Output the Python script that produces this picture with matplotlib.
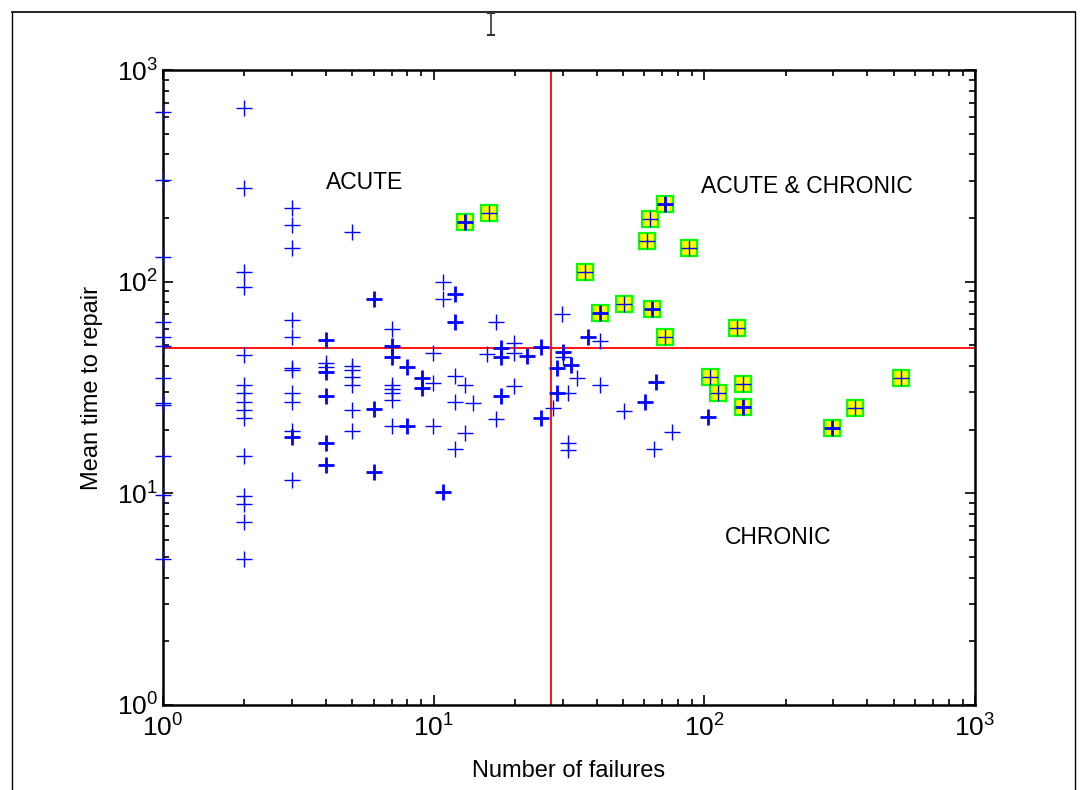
import numpy as np
import matplotlib
matplotlib.use("Agg")
import matplotlib.pyplot as plt
from matplotlib.lines import Line2D
from matplotlib.ticker import FixedLocator, FixedFormatter, LogLocator, NullFormatter

plt.rcParams['font.family'] = ['Liberation Sans', 'DejaVu Sans']
plt.rcParams['mathtext.default'] = 'regular'

# plain failure points: number of failures, mean time to repair, drawn twice (bold) or not
fail_x = [1]*12 + [2]*15 + [3]*12 + [4]*7 + [5]*7 + [6]*3 + [7]*8 + [7.95]*2 + [9.03]*2 \
    + [9.94]*3 + [10.85]*3 + [12.0]*5 + [13.05]*2 + [14.0] + [17.0]*2 + [15.7] + [17.8]*3 \
    + [19.8]*3 + [22.1] + [24.9]*2 + [27.7] + [28.5]*2 + [29.7] + [30.0]*2 + [31.4]*3 \
    + [32.3] + [33.8] + [37.2] + [41.2]*2 + [50.6] + [60.3] + [65.3] + [66.3] + [75.7] + [103.4]
repair_y = [631, 302, 131, 64.7, 55, 49.8, 34.9, 26.8, 26.1, 15.0, 9.8, 4.9,
            659, 278, 111, 94.6, 45, 32.5, 29.7, 27.1, 24.7, 22.6, 15.0, 9.7, 8.9, 7.3, 4.9,
            222, 186, 144, 65.9, 54.6, 38.9, 38.2, 29.7, 27.1, 19.8, 18.4, 11.6,
            53, 41.1, 39.4, 37.3, 28.8, 17.2, 13.6,
            171, 39.9, 38.2, 35.4, 32.5, 24.7, 19.7,
            82.5, 24.9, 12.6,
            59.9, 49.4, 43.9, 32.5, 31.0, 29.9, 27.6, 20.8,
            39.6, 20.8,
            34.9, 31.3,
            45.8, 33.1, 20.8,
            100, 82.5, 10.1,
            87.1, 64.7, 35.8, 26.9, 16.2,
            32.5, 19.3,
            26.6,
            64.7, 22.4,
            45.5,
            48.4, 44.2, 28.9,
            51.1, 45.8, 32.1,
            44.5,
            49.1, 22.6,
            25.2,
            38.9, 29.7,
            70.1,
            46.7, 44.2,
            29.7, 17.2, 16.0,
            40.4,
            34.9,
            54.6,
            52.6, 32.5,
            24.5,
            27.1,
            16.2,
            33.7,
            19.4,
            23.0]
bold = [0]*12 + [0]*10 + [0]*5 + [0]*10 + [1, 0] + [1, 0, 0, 1, 1, 1, 1] + [0]*7 + [1]*3 \
    + [0, 1, 1, 0, 0, 0, 0, 0] + [1, 1] + [1, 1] + [0]*3 + [0, 0, 1] + [1, 1, 0, 0, 0] + [0, 0] \
    + [0] + [0, 0] + [0] + [1]*3 + [0]*3 + [1] + [1, 1] + [0] + [1, 1] + [0] + [1, 0] + [0]*3 \
    + [1] + [0] + [1] + [0, 0] + [0] + [1] + [0] + [1] + [0] + [1]

# failures flagged as both acute and chronic
flag_x = [13.05, 16.0, 36.2, 41.2, 50.6, 64.2, 71.5, 61.4, 63.1, 71.6, 88, 132,
          105, 112, 139, 139, 360, 297, 535]
flag_y = [192, 212, 111, 70.8, 78.4, 74.0, 54.6, 156, 197, 232, 145, 60.2,
          35.6, 29.7, 32.8, 25.7, 25.2, 20.3, 34.9]
flag_bold = [1, 0, 0, 1, 0, 1, 0, 0, 0, 1, 0, 0, 0, 0, 0, 1, 0, 1, 0]

x_limit = 27.1
y_limit = 48.7

fail_x = np.array(fail_x)
repair_y = np.array(repair_y)
bold = np.array(bold, dtype=bool)
flag_bold = np.array(flag_bold, dtype=bool)
flag_x = np.array(flag_x)
flag_y = np.array(flag_y)

fig = plt.figure(figsize=(10.81, 7.90), dpi=100)
ax = fig.add_axes([163/1081, 85/790, 812/1081, 635/790])
ax.set_xscale('log')
ax.set_yscale('log')
ax.set_xlim(1, 1000)
ax.set_ylim(1, 1000)

ax.axvline(x_limit, color='#ff0000', lw=1.3, zorder=1)
ax.axhline(y_limit, color='#ff0000', lw=1.3, zorder=1)

ax.plot(flag_x, flag_y, 's', ms=11, mfc='#ffff00', mec='#00ff00', mew=1.6, ls='none', zorder=2, clip_on=False)

ax.plot(fail_x[~bold], repair_y[~bold], '+', color='#0000ff', ms=11.5, mew=1.0, ls='none', zorder=3, clip_on=False)
ax.plot(fail_x[bold], repair_y[bold], '+', color='#0000ff', ms=11.5, mew=2.0, ls='none', zorder=3, clip_on=False)
ax.plot(flag_x[~flag_bold], flag_y[~flag_bold], '+', color='#0000ff', ms=11.5, mew=1.0, ls='none', zorder=3)
ax.plot(flag_x[flag_bold], flag_y[flag_bold], '+', color='#0000ff', ms=11.5, mew=2.0, ls='none', zorder=3)

ax.text(5.57, 295, 'ACUTE', fontsize=16.5, ha='center', va='center')
ax.text(239, 283, 'ACUTE & CHRONIC', fontsize=16.5, ha='center', va='center')
ax.text(187, 6.2, 'CHRONIC', fontsize=16.5, ha='center', va='center')

decades = [1, 10, 100, 1000]
labels = ['$10^{0}$', '$10^{1}$', '$10^{2}$', '$10^{3}$']
for axis in (ax.xaxis, ax.yaxis):
    axis.set_major_locator(FixedLocator(decades))
    axis.set_major_formatter(FixedFormatter(labels))
    axis.set_minor_locator(LogLocator(base=10, subs=np.arange(2, 10)))
    axis.set_minor_formatter(NullFormatter())
ax.tick_params(which='both', direction='in', top=True, right=True, labelsize=19, width=1.2)
ax.tick_params(which='major', length=7)
ax.tick_params(which='minor', length=4)
ax.tick_params(axis='x', pad=7)
for s in ax.spines.values():
    s.set_linewidth(1.8)

ax.set_xlabel('Number of failures', fontsize=17, labelpad=13)
ax.set_ylabel('Mean time to repair', fontsize=17, labelpad=10)

# window frame and text cursor from the screenshot
tf = fig.transFigure
fig.add_artist(Line2D([12/1081, 1075/1081], [1 - 12/790, 1 - 12/790], transform=tf, color='black', lw=1.2))
fig.add_artist(Line2D([12/1081, 12/1081], [0, 1 - 12/790], transform=tf, color='black', lw=1))
fig.add_artist(Line2D([1075/1081, 1075/1081], [0, 1 - 12/790], transform=tf, color='black', lw=1))
fig.add_artist(Line2D([491/1081, 491/1081], [1 - 13/790, 1 - 35/790], transform=tf, color='#333333', lw=1.2))
fig.add_artist(Line2D([488/1081, 494/1081], [1 - 13/790, 1 - 13/790], transform=tf, color='#333333', lw=1.5))
fig.add_artist(Line2D([488/1081, 494/1081], [1 - 35/790, 1 - 35/790], transform=tf, color='#333333', lw=1.5))

fig.savefig('out.png', dpi=100)
